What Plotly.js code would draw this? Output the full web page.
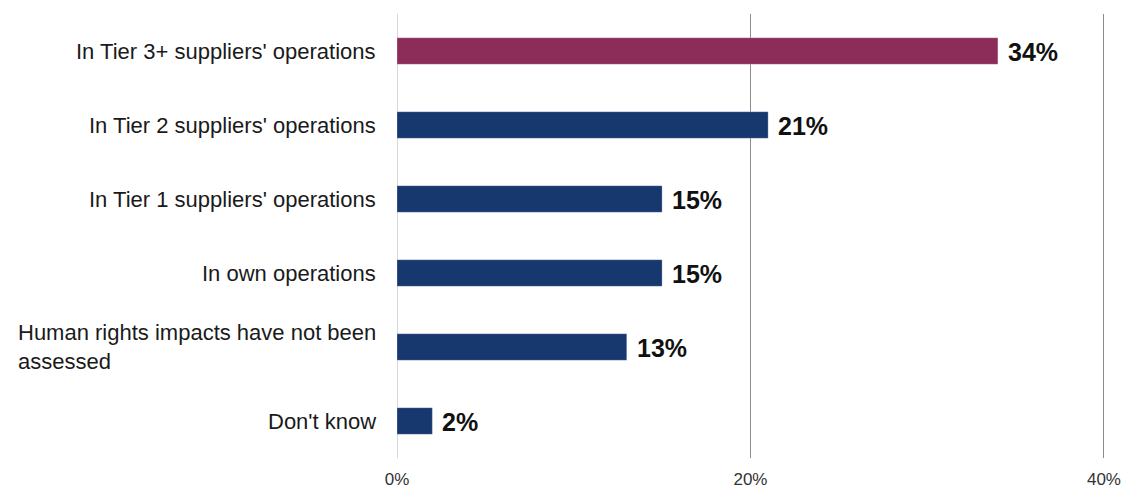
<!DOCTYPE html>
<html>
<head>
<meta charset="utf-8">
<script src="https://cdn.plot.ly/plotly-3.0.1.min.js"></script>
<style>
html,body{margin:0;padding:0;background:#fff;}
#chart{width:1127px;height:488px;}
</style>
</head>
<body>
<div id="chart"></div>
<script>
const categories = [
  "In Tier 3+ suppliers' operations",
  "In Tier 2 suppliers' operations",
  "In Tier 1 suppliers' operations",
  "In own operations",
  "Human rights impacts have not been<br>assessed",
  "Don't know"
];
const values = [34, 21, 15, 15, 13, 2];
const barColors = ["#8B2D58", "#17386F", "#17386F", "#17386F", "#17386F", "#17386F"];
const tickVals = [0, 20, 40];
const tickText = ["0%", "20%", "40%"];

const FONT = "Liberation Sans, Arial, Helvetica, sans-serif";

const trace = {
  type: 'bar',
  orientation: 'h',
  y: categories,
  x: values,
  marker: {color: barColors, line: {color: 'rgba(255,255,255,0.25)', width: 1}},
  hoverinfo: 'none'
};

const annotations = [];
categories.forEach((c, i) => {
  annotations.push({
    xref: 'paper', yref: 'y', x: 0, y: c,
    text: c, showarrow: false,
    xanchor: 'right', yanchor: 'middle', align: 'left',
    xshift: -19,
    font: {family: FONT, size: 22, color: '#1a1a1a'}
  });
  annotations.push({
    xref: 'x', yref: 'y', x: values[i], y: c,
    text: '<b>' + values[i] + '%</b>', showarrow: false,
    xanchor: 'left', yanchor: 'middle',
    xshift: 8, yshift: -1,
    font: {family: FONT, size: 25, color: '#111'}
  });
});

const layout = {
  width: 1127, height: 488,
  margin: {l: 397, r: 22, t: 14, b: 30},
  paper_bgcolor: '#fff', plot_bgcolor: '#fff',
  showlegend: false,
  bargap: 0.64,
  xaxis: {
    range: [0, 40.06],
    tickvals: tickVals, ticktext: tickText,
    showgrid: true, gridcolor: '#8c8c8c', gridwidth: 1,
    zeroline: true, zerolinecolor: '#d9d9d9', zerolinewidth: 1,
    showline: false, ticks: '',
    ticklabelstandoff: 9,
    tickfont: {family: FONT, size: 17, color: '#333'},
    fixedrange: true
  },
  yaxis: {
    type: 'category',
    categoryorder: 'array', categoryarray: categories,
    autorange: 'reversed',
    showticklabels: false, showgrid: false, zeroline: false, showline: false, ticks: '',
    fixedrange: true
  },
  annotations: annotations
};

Plotly.newPlot('chart', [trace], layout, {staticPlot: true, displayModeBar: false});
</script>
</body>
</html>
